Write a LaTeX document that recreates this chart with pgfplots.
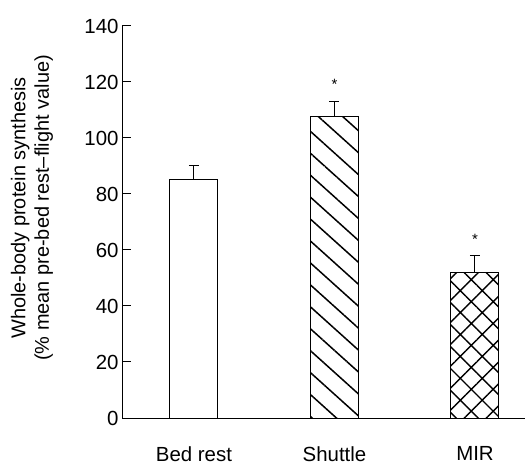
\documentclass[border=0pt]{standalone}
\usepackage{pgfplots}
\pgfplotsset{compat=1.18}
\usepackage{fontspec}
\setmainfont{Liberation Sans}
\usetikzlibrary{patterns.meta}
\begin{document}
\begin{tikzpicture}
\useasboundingbox (0,0) rectangle (525bp,466bp);
\begin{axis}[
  at={(122bp,48bp)}, anchor=south west,
  scale only axis,
  width=403bp, height=392bp,
  xmin=-0.512, xmax=2.356,
  ymin=0, ymax=140,
  axis x line=bottom, axis y line=left,
  axis line style={-, line width=1bp, black},
  xtick={0,1,2},
  xticklabels={Bed rest, Shuttle, MIR},
  x tick style={draw=none},
  ytick={0,20,...,140},
  y tick style={line width=1bp, black},
  tick align=inside,
  major tick length=9bp,
  /pgf/number format/assume math mode=true,
  every tick label/.append style={font=\fontsize{20.5}{24}\selectfont},
  xticklabel style={yshift=-25bp},
  ylabel={Whole-body protein synthesis\\(\% mean pre-bed rest--flight value)},
  ylabel style={at={(axis description cs:-0.171,0.536)}, anchor=south, inner sep=0pt, align=center, font=\fontsize{20}{23.5}\selectfont},
  clip=false,
]
\addplot[ybar, bar width=48bp, bar shift=0pt, draw=black, line width=1bp, fill=white,
  error bars/.cd, y dir=plus, y explicit, error mark=-,
  error bar style={line width=1bp, black},
  error mark options={rotate=90, black, line width=1bp, mark size=5bp}]
  coordinates {(0,85.0) +- (0,5.2)};
\addplot[ybar, bar width=48bp, bar shift=0pt, draw=black, line width=1bp,
  pattern={Lines[angle=-42, distance=16.3bp, line width=1.5bp]}, pattern color=black,
  error bars/.cd, y dir=plus, y explicit, error mark=-,
  error bar style={line width=1bp, black},
  error mark options={rotate=90, black, line width=1bp, mark size=5bp}]
  coordinates {(1,107.5) +- (0,5.4)};
\addplot[ybar, bar width=48bp, bar shift=0pt, draw=black, line width=1bp,
  pattern={Hatch[angle=45, distance=15.5bp, line width=1.4bp]}, pattern color=black,
  error bars/.cd, y dir=plus, y explicit, error mark=-,
  error bar style={line width=1bp, black},
  error mark options={rotate=90, black, line width=1bp, mark size=5bp}]
  coordinates {(2,52.1) +- (0,5.8)};
\addplot[draw=none, mark=none, nodes near coords={*},
  every node near coord/.append style={anchor=center, font=\fontsize{15}{15}\selectfont, inner sep=0pt}]
  coordinates {(1,119.3) (2,63.9)};
\end{axis}
\end{tikzpicture}
\end{document}
